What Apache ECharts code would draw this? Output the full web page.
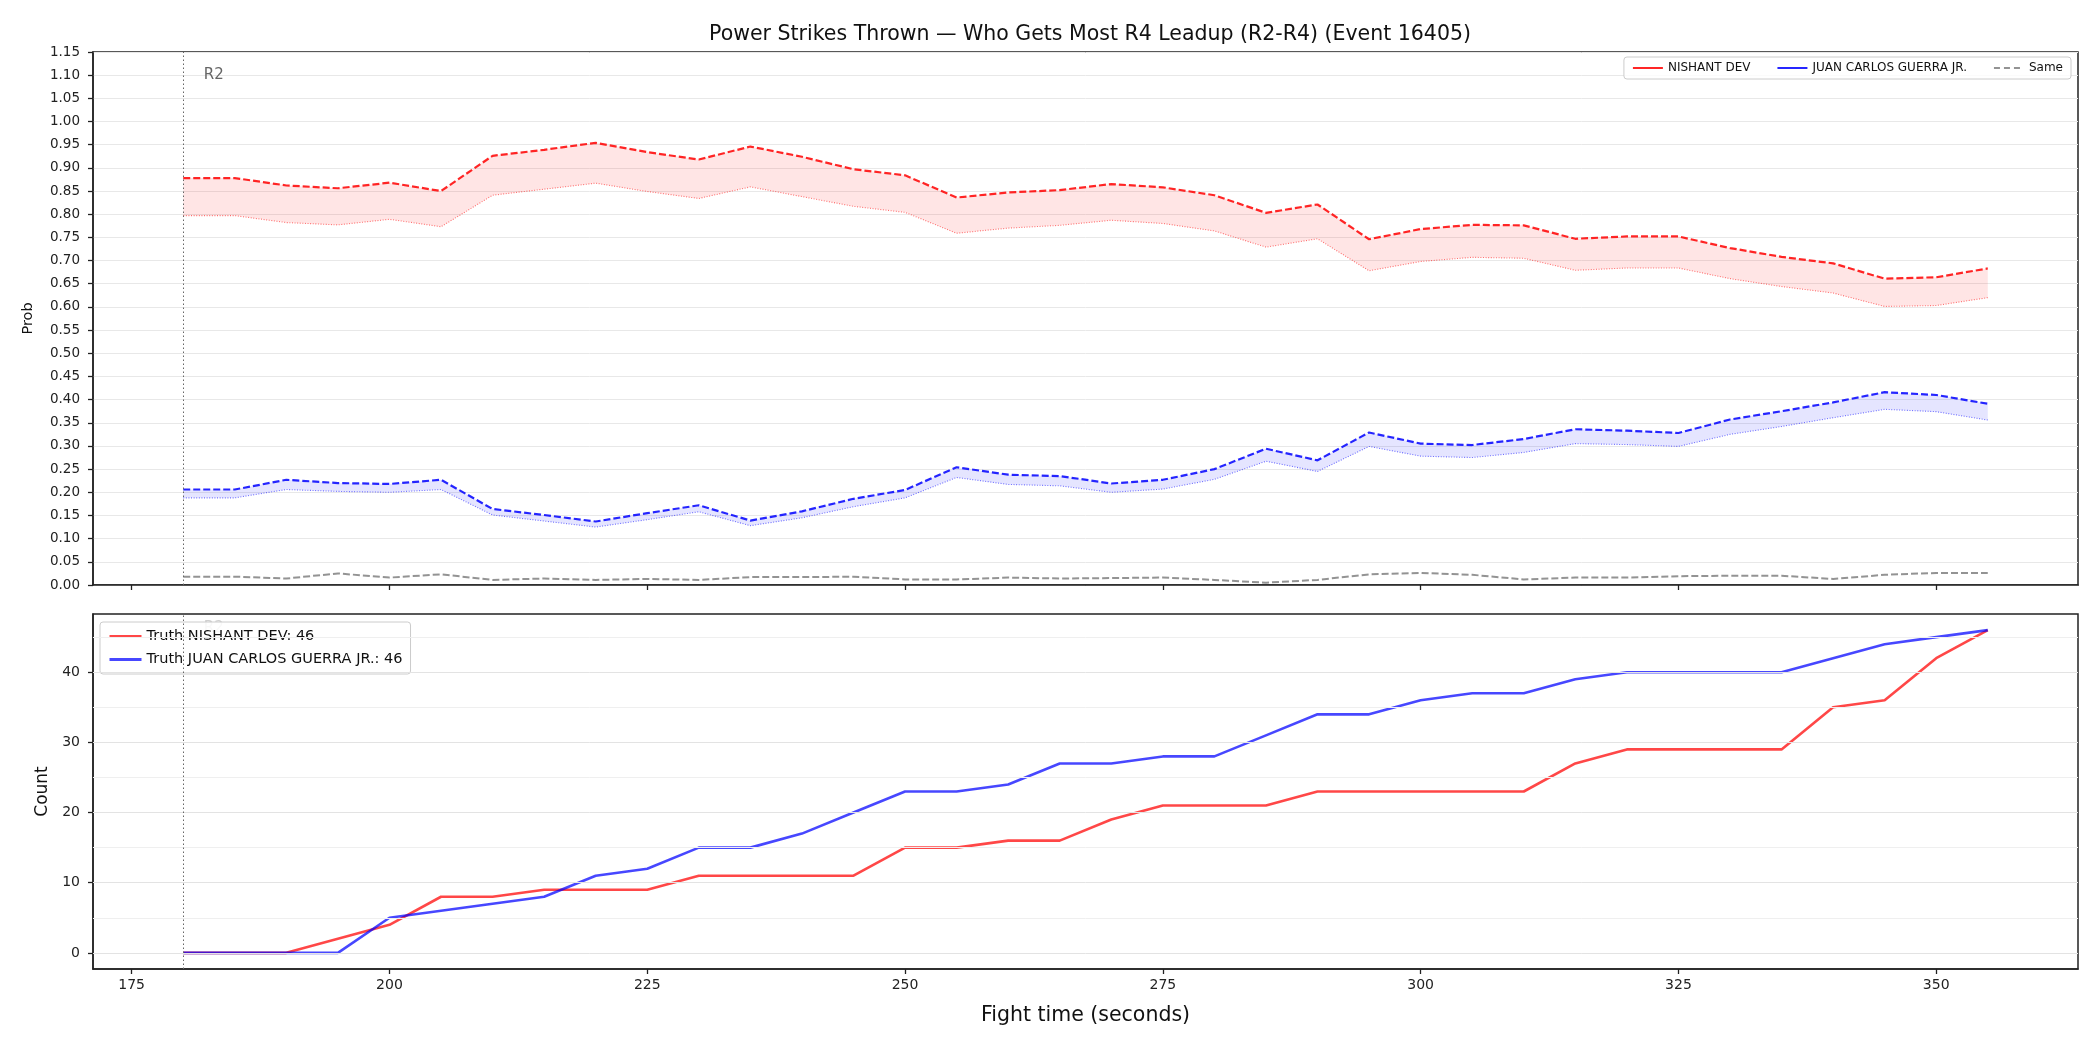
<!DOCTYPE html>
<html>
<head>
<meta charset="utf-8">
<script src="https://cdn.jsdelivr.net/npm/echarts@6/dist/echarts.min.js"></script>
<style>
  html, body { margin: 0; padding: 0; background: #fff; }
  #chart { width: 2100px; height: 1050px; }
</style>
</head>
<body>
<div id="chart"></div>
<script>
// fight time (s)
const times = [180, 185, 190, 195, 200, 205, 210, 215, 220, 225, 230, 235, 240, 245, 250, 255, 260, 265,
  270, 275, 280, 285, 290, 295, 300, 305, 310, 315, 320, 325, 330, 335, 340, 345, 350, 355]
const xTicks = [175, 200, 225, 250, 275, 300, 325, 350]

// probability bands (upper dashed / lower dotted)
const nishantHi = [0.878, 0.878, 0.862, 0.856, 0.868, 0.850, 0.926, 0.939, 0.954, 0.934, 0.918, 0.946, 0.924, 0.897,
  0.884, 0.836, 0.847, 0.852, 0.865, 0.858, 0.841, 0.803, 0.821, 0.746, 0.768, 0.777, 0.776, 0.747, 0.752, 0.752,
  0.727, 0.708, 0.694, 0.661, 0.664, 0.683]
const nishantLo = [0.797, 0.797, 0.782, 0.777, 0.789, 0.773, 0.841, 0.854, 0.867, 0.849, 0.834, 0.859, 0.838, 0.817,
  0.804, 0.759, 0.770, 0.776, 0.787, 0.780, 0.764, 0.729, 0.747, 0.678, 0.698, 0.707, 0.705, 0.679, 0.684, 0.684,
  0.661, 0.644, 0.630, 0.601, 0.603, 0.620]
const guerraHi = [0.206, 0.206, 0.227, 0.220, 0.218, 0.227, 0.164, 0.151, 0.137, 0.155, 0.172, 0.139, 0.159, 0.186,
  0.205, 0.254, 0.238, 0.235, 0.219, 0.227, 0.250, 0.294, 0.269, 0.329, 0.305, 0.302, 0.315, 0.336, 0.333, 0.328,
  0.357, 0.375, 0.394, 0.416, 0.410, 0.391]
const guerraLo = [0.188, 0.188, 0.206, 0.202, 0.200, 0.206, 0.151, 0.138, 0.125, 0.141, 0.158, 0.128, 0.145, 0.169,
  0.188, 0.232, 0.217, 0.214, 0.200, 0.207, 0.228, 0.267, 0.245, 0.299, 0.278, 0.275, 0.286, 0.305, 0.303, 0.299,
  0.325, 0.342, 0.361, 0.379, 0.374, 0.356]
const same = [0.018, 0.018, 0.014, 0.025, 0.016, 0.023, 0.011, 0.014, 0.011, 0.013, 0.011, 0.017, 0.017, 0.018,
  0.012, 0.012, 0.016, 0.014, 0.015, 0.016, 0.011, 0.005, 0.011, 0.023, 0.026, 0.022, 0.012, 0.016, 0.016, 0.019,
  0.020, 0.020, 0.013, 0.022, 0.026, 0.026]

// truth counts
const nishantCount = [0, 0, 0, 2, 4, 8, 8, 9, 9, 9, 11, 11, 11, 11, 15, 15, 16, 16, 19, 21, 21, 21, 23, 23, 23, 23,
  23, 27, 29, 29, 29, 29, 35, 36, 42, 46]
const guerraCount = [0, 0, 0, 0, 5, 6, 7, 8, 11, 12, 15, 15, 17, 20, 23, 23, 24, 27, 27, 28, 28, 31, 34, 34, 36, 37,
  37, 39, 40, 40, 40, 40, 42, 44, 45, 46]
const countTicks = [0, 10, 20, 30, 40]
const countMinorGrid = [5, 15, 25, 35, 45]

const FONT = 'DejaVu Sans'
const RED = 'rgba(255, 0, 0, 0.85)'
const BLUE = 'rgba(0, 0, 255, 0.85)'
const GRAY = 'rgba(128, 128, 128, 0.85)'

const pairs = (ys) => times.map((t, i) => [t, ys[i]])

// filled band between lower and upper curves
function band(lo, hi, color) {
  return {
    type: 'custom',
    xAxisIndex: 0,
    yAxisIndex: 0,
    silent: true,
    z: 1,
    data: [[times[0], hi[0]]],
    renderItem: (params, api) => {
      const pts = []
      times.forEach((t, i) => pts.push(api.coord([t, hi[i]])))
      for (let i = times.length - 1; i >= 0; i--) pts.push(api.coord([times[i], lo[i]]))
      return { type: 'polygon', shape: { points: pts }, style: { fill: color } }
    }
  }
}

function xAxisCfg(gridIndex, labels) {
  return {
    type: 'value',
    gridIndex,
    min: 171.25,
    max: 363.75,
    axisLine: { show: true, onZero: false, lineStyle: { color: '#222', width: 1.5 } },
    axisTick: { show: true, length: 5, customValues: xTicks, lineStyle: { color: '#222', width: 1.3 } },
    axisLabel: { show: labels, customValues: xTicks, margin: 9, fontSize: 14, color: '#222', fontFamily: FONT },
    splitLine: { show: false },
    name: labels ? 'Fight time (seconds)' : '',
    nameLocation: 'middle',
    nameGap: 36,
    nameTextStyle: { fontSize: 20.5, color: '#111', fontFamily: FONT }
  }
}

const dotted = { color: '#666', width: 1, type: [1.5, 2.5] }

const chart = echarts.init(document.getElementById('chart'))

chart.setOption({
  animation: false,
  backgroundColor: '#fff',
  textStyle: { fontFamily: FONT },
  title: {
    text: 'Power Strikes Thrown — Who Gets Most R4 Leadup (R2-R4) (Event 16405)',
    left: 1085,
    textAlign: 'center',
    top: 19,
    textStyle: { fontSize: 20.5, fontWeight: 'normal', color: '#111', fontFamily: FONT }
  },
  grid: [
    { left: 93, top: 52, width: 1985, height: 533, show: true, borderColor: '#222', borderWidth: 1.5 },
    { left: 93, top: 614, width: 1985, height: 355, show: true, borderColor: '#222', borderWidth: 1.5 }
  ],
  legend: [
    {
      right: 29,
      top: 57,
      orient: 'horizontal',
      padding: [5, 8],
      itemGap: 26,
      itemWidth: 30,
      itemHeight: 10,
      itemStyle: { opacity: 0 },
      backgroundColor: 'rgba(255,255,255,0.8)',
      borderColor: '#cccccc',
      borderWidth: 1,
      borderRadius: 3,
      textStyle: { fontSize: 12, color: '#111', fontFamily: FONT },
      data: [
        { name: 'NISHANT DEV', lineStyle: { type: 'solid', width: 2 } },
        { name: 'JUAN CARLOS GUERRA JR.', lineStyle: { type: 'solid', width: 2 } },
        { name: 'Same', lineStyle: { type: [6, 4], width: 2 } }
      ]
    },
    {
      left: 100,
      top: 622,
      orient: 'vertical',
      padding: [7, 8],
      itemGap: 8,
      itemWidth: 32,
      itemHeight: 10,
      itemStyle: { opacity: 0 },
      lineStyle: { width: 3 },
      backgroundColor: 'rgba(255,255,255,0.85)',
      borderColor: '#cccccc',
      borderWidth: 1,
      borderRadius: 3,
      textStyle: { fontSize: 14.5, color: '#111', fontFamily: FONT },
      data: ['Truth NISHANT DEV: 46', 'Truth JUAN CARLOS GUERRA JR.: 46']
    }
  ],
  xAxis: [xAxisCfg(0, false), xAxisCfg(1, true)],
  yAxis: [
    {
      type: 'value',
      gridIndex: 0,
      min: 0,
      max: 1.15,
      interval: 0.05,
      axisLine: { show: true, lineStyle: { color: '#222', width: 1.5 } },
      axisTick: { show: true, length: 5, lineStyle: { color: '#222', width: 1.3 } },
      axisLabel: { margin: 13, fontSize: 13.5, color: '#222', fontFamily: FONT, formatter: (v) => v.toFixed(2) },
      splitLine: { show: true, lineStyle: { color: '#e8e8e8', width: 1 } },
      name: 'Prob',
      nameLocation: 'middle',
      nameGap: 57,
      nameTextStyle: { fontSize: 14.5, color: '#111', fontFamily: FONT }
    },
    {
      type: 'value',
      gridIndex: 1,
      min: -2.3,
      max: 48.3,
      axisLine: { show: true, onZero: false, lineStyle: { color: '#222', width: 1.5 } },
      axisTick: { show: true, length: 5, customValues: countTicks, lineStyle: { color: '#222', width: 1.3 } },
      axisLabel: { customValues: countTicks, margin: 13, fontSize: 14, color: '#222', fontFamily: FONT },
      splitLine: { show: false },
      name: 'Count',
      nameLocation: 'middle',
      nameGap: 42,
      nameTextStyle: { fontSize: 17, color: '#111', fontFamily: FONT }
    }
  ],
  series: [
    band(nishantLo, nishantHi, 'rgba(255, 0, 0, 0.1)'),
    band(guerraLo, guerraHi, 'rgba(0, 0, 255, 0.1)'),
    {
      // round marker + label, top panel
      type: 'line',
      name: '_r2top',
      xAxisIndex: 0,
      yAxisIndex: 0,
      data: [],
      silent: true,
      markLine: {
        silent: true,
        symbol: ['none', 'none'],
        label: { show: false },
        lineStyle: dotted,
        data: [{ xAxis: 180 }]
      },
      markPoint: {
        silent: true,
        symbol: 'circle',
        symbolSize: 0,
        label: { show: true, position: 'right', distance: 0, formatter: 'R2', fontSize: 15, color: '#666', fontFamily: FONT },
        data: [{ coord: [182, 1.10] }]
      }
    },
    {
      name: 'NISHANT DEV',
      type: 'line',
      xAxisIndex: 0,
      yAxisIndex: 0,
      symbol: 'none',
      z: 3,
      data: pairs(nishantHi),
      lineStyle: { color: RED, width: 2.2, type: [7, 3] },
      itemStyle: { color: RED }
    },
    {
      name: 'NISHANT DEV low',
      type: 'line',
      xAxisIndex: 0,
      yAxisIndex: 0,
      symbol: 'none',
      z: 3,
      data: pairs(nishantLo),
      lineStyle: { color: 'rgba(255, 0, 0, 0.55)', width: 1.1, type: [1, 1.6] },
      itemStyle: { color: RED }
    },
    {
      name: 'JUAN CARLOS GUERRA JR.',
      type: 'line',
      xAxisIndex: 0,
      yAxisIndex: 0,
      symbol: 'none',
      z: 3,
      data: pairs(guerraHi),
      lineStyle: { color: BLUE, width: 2.2, type: [7, 3] },
      itemStyle: { color: BLUE }
    },
    {
      name: 'JUAN CARLOS GUERRA JR. low',
      type: 'line',
      xAxisIndex: 0,
      yAxisIndex: 0,
      symbol: 'none',
      z: 3,
      data: pairs(guerraLo),
      lineStyle: { color: 'rgba(0, 0, 255, 0.55)', width: 1.1, type: [1, 1.6] },
      itemStyle: { color: BLUE }
    },
    {
      name: 'Same',
      type: 'line',
      xAxisIndex: 0,
      yAxisIndex: 0,
      symbol: 'none',
      z: 3,
      data: pairs(same),
      lineStyle: { color: GRAY, width: 2, type: [7, 3] },
      itemStyle: { color: GRAY }
    },
    {
      // grid lines + round marker, bottom panel
      type: 'line',
      name: '_gridbottom',
      xAxisIndex: 1,
      yAxisIndex: 1,
      data: [],
      silent: true,
      z: 0,
      markLine: {
        silent: true,
        symbol: ['none', 'none'],
        label: { show: false },
        data: [
          ...countTicks.map((v) => ({ yAxis: v, lineStyle: { color: '#e3e3e3', width: 1, type: 'solid' } })),
          ...countMinorGrid.map((v) => ({ yAxis: v, lineStyle: { color: '#efefef', width: 1, type: 'solid' } })),
          { xAxis: 180, lineStyle: dotted }
        ]
      },
      markPoint: {
        silent: true,
        z: 1,
        symbol: 'circle',
        symbolSize: 0,
        label: { show: true, position: 'right', distance: 0, formatter: 'R2', fontSize: 15, color: '#cfcfcf', fontFamily: FONT },
        data: [{ coord: [182, 46.3] }]
      }
    },
    {
      name: 'Truth NISHANT DEV: 46',
      type: 'line',
      xAxisIndex: 1,
      yAxisIndex: 1,
      symbol: 'none',
      z: 3,
      data: pairs(nishantCount),
      lineStyle: { color: 'rgba(255, 0, 0, 0.72)', width: 2.6 },
      itemStyle: { color: 'rgba(255, 0, 0, 0.72)' }
    },
    {
      name: 'Truth JUAN CARLOS GUERRA JR.: 46',
      type: 'line',
      xAxisIndex: 1,
      yAxisIndex: 1,
      symbol: 'none',
      z: 3,
      data: pairs(guerraCount),
      lineStyle: { color: 'rgba(0, 0, 255, 0.72)', width: 2.6 },
      itemStyle: { color: 'rgba(0, 0, 255, 0.72)' }
    }
  ]
})
</script>
</body>
</html>
